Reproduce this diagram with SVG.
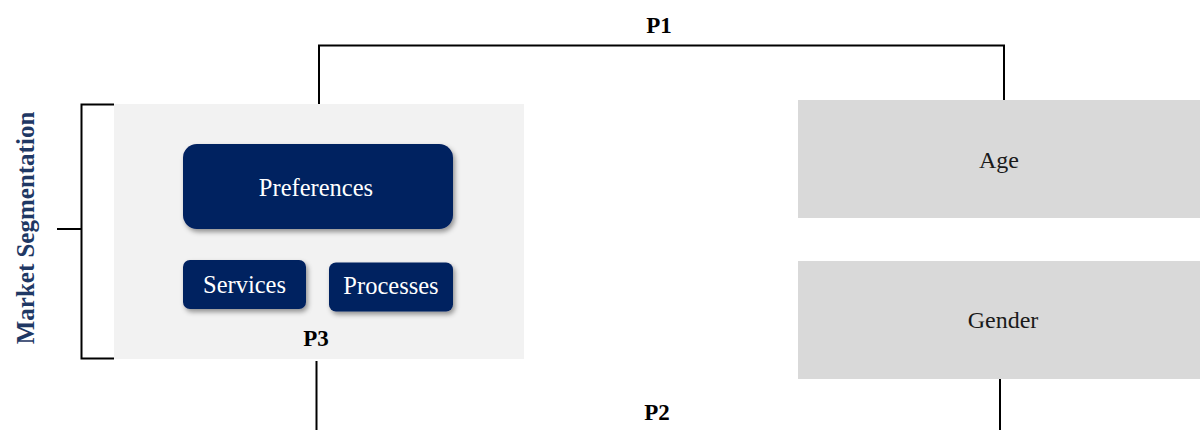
<svg xmlns="http://www.w3.org/2000/svg" width="1200" height="430" viewBox="0 0 1200 430">
  <defs>
    <style>
      .serif { font-family: "Liberation Serif", "Times New Roman", serif; }
      .label { font-size: 24.5px; fill: #ffffff; text-anchor: middle; }
      .attr { font-size: 24px; fill: #1a1a1a; text-anchor: middle; }
      .tag { font-size: 23px; font-weight: bold; fill: #000000; text-anchor: middle; }
      .wire { fill: none; stroke: #000000; stroke-width: 2; }
      .navy { fill: #002060; filter: url(#soft); }
      .grey { fill: #d9d9d9; }
    </style>
    <filter id="soft" x="-10%" y="-20%" width="125%" height="150%">
      <feDropShadow dx="2" dy="3" stdDeviation="2.5" flood-color="#000000" flood-opacity="0.4"/>
    </filter>
  </defs>

  <rect width="1200" height="430" fill="#ffffff"/>

  <!-- connectors -->
  <g id="connectors" class="wire">
    <path d="M319 104 V45.5 H1004 V100"/>
    <path d="M316.5 361 V430"/>
    <path d="M1000 379 V430"/>
    <path d="M114 104.5 H81.5 V358.5 H114"/>
    <path d="M57 229 H81.5"/>
  </g>

  <!-- segmentation panel -->
  <g id="panel">
    <rect x="114" y="104" width="410" height="255" fill="#f2f2f2"/>
    <text class="serif tag" x="316" y="346">P3</text>
  </g>

  <g id="preferences">
    <rect class="navy" x="183" y="144" width="270" height="85" rx="14"/>
    <text class="serif label" x="316" y="196">Preferences</text>
  </g>

  <g id="services">
    <rect class="navy" x="183" y="260" width="123" height="49" rx="7"/>
    <text class="serif label" x="244.5" y="293">Services</text>
  </g>

  <g id="processes">
    <rect class="navy" x="329" y="262.5" width="124" height="49" rx="7"/>
    <text class="serif label" x="391" y="294">Processes</text>
  </g>

  <g id="age">
    <rect class="grey" x="798" y="100" width="402" height="118"/>
    <text class="serif attr" x="999" y="168">Age</text>
  </g>

  <g id="gender">
    <rect class="grey" x="798" y="261" width="402" height="118"/>
    <text class="serif attr" x="1003" y="328">Gender</text>
  </g>

  <g id="labels">
    <text class="serif tag" x="659" y="33">P1</text>
    <text class="serif tag" x="657" y="420">P2</text>
    <text class="serif" x="0" y="0" transform="translate(34 228) rotate(-90)" font-size="25" font-weight="bold" fill="#1f3864" text-anchor="middle">Market Segmentation</text>
  </g>
</svg>
